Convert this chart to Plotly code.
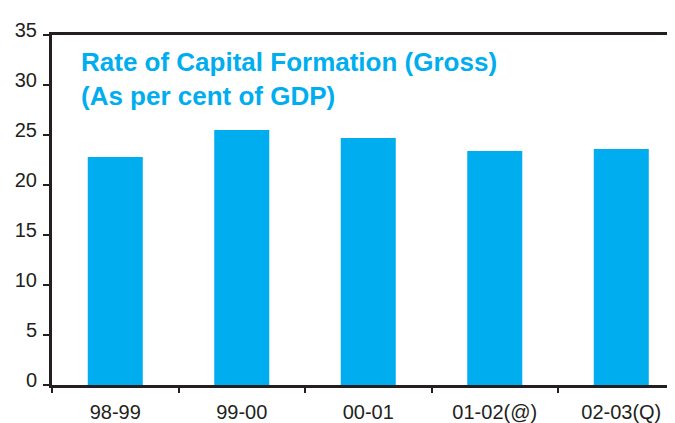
import plotly.graph_objects as go

categories = ["98-99", "99-00", "00-01", "01-02(@)", "02-03(Q)"]
values = [22.8, 25.5, 24.7, 23.4, 23.6]
y_ticks = [0, 5, 10, 15, 20, 25, 30, 35]
title_lines = ["Rate of Capital Formation (Gross)", "(As per cent of GDP)"]

BLUE = "#00AEEF"
AXIS = "#231F20"
FONT = "Liberation Sans, Arial, sans-serif"

fig = go.Figure()
fig.add_trace(go.Bar(x=categories, y=values, marker=dict(color=BLUE, line=dict(width=0)),
                     width=0.435))

# page body has an 8px default margin, so the figure is offset by 8px
fig.update_layout(
    width=675, height=423,
    margin=dict(l=44, r=0, t=27, b=46, autoexpand=False),
    paper_bgcolor="white", plot_bgcolor="white",
    showlegend=False,
    font=dict(family=FONT, size=20, color=AXIS),
    xaxis=dict(
        type="category", range=[-0.5, 4.488], automargin=False,
        showline=True, linecolor=AXIS, linewidth=3, mirror=True,
        ticks="outside", tickson="boundaries", ticklen=5, tickwidth=2, tickcolor=AXIS,
        showgrid=False, zeroline=False, ticklabelstandoff=7,
        tickfont=dict(family=FONT, size=20, color=AXIS),
    ),
    yaxis=dict(
        range=[0, 35], tickvals=y_ticks, automargin=False,
        showline=True, linecolor=AXIS, linewidth=3,
        ticks="outside", ticklen=6, tickwidth=2, tickcolor=AXIS,
        showgrid=False, zeroline=False, ticklabelstandoff=2, ticklabelshift=-5,
        tickfont=dict(family=FONT, size=20, color=AXIS),
    ),
)

fig.add_annotation(
    text="<b>" + title_lines[0] + "</b><br><b>" + title_lines[1] + "</b>",
    xref="paper", yref="paper", x=0.043, y=0.972, xanchor="left", yanchor="top",
    align="left", showarrow=False,
    font=dict(family=FONT, size=26, color=BLUE),
)

fig.write_html("out.html")
